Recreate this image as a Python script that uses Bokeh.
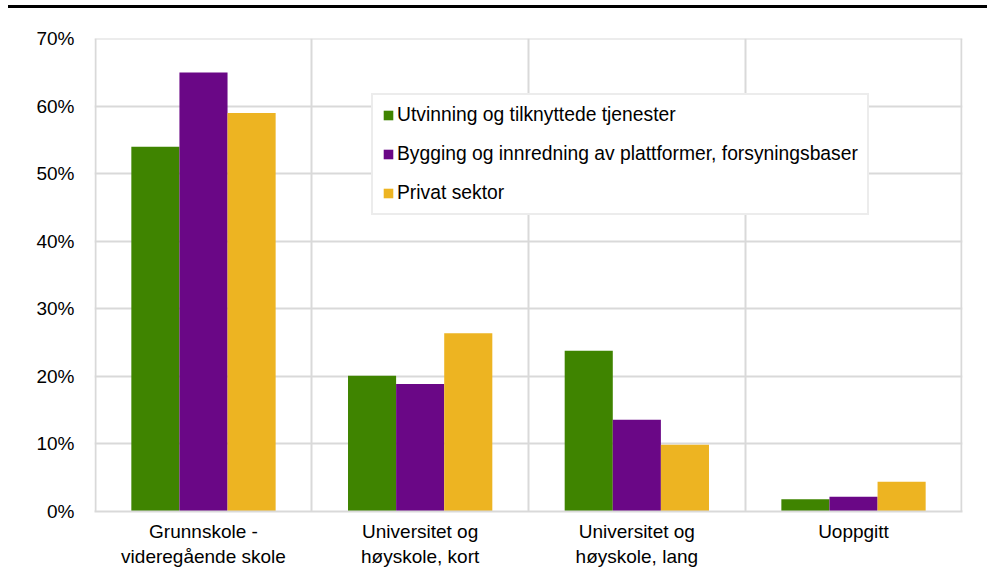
from bokeh.plotting import figure
from bokeh.models import (ColumnDataSource, Range1d, FixedTicker, PrintfTickFormatter,
                          Legend, LegendItem, Div)
from bokeh.transform import dodge
from bokeh.layouts import column
from bokeh.embed import file_html
from bokeh.resources import INLINE

categories = ["Grunnskole -\nvideregående skole", "Universitet og\nhøyskole, kort",
              "Universitet og\nhøyskole, lang", "Uoppgitt"]
series_names = ["Utvinning og tilknyttede tjenester",
                "Bygging og innredning av plattformer, forsyningsbaser",
                "Privat sektor"]
utvinning = [54.0, 20.1, 23.8, 1.8]
bygging = [65.0, 18.9, 13.6, 2.2]
privat = [59.0, 26.4, 9.9, 4.4]
colors = ["#3F8400", "#6A0786", "#EDB422"]
y_ticks = [0, 10, 20, 30, 40, 50, 60, 70]

FONT = "Liberation Sans"
GRID = "#d9d9d9"

n = len(categories)
xs = [i + 0.5 for i in range(n)]
source = ColumnDataSource(data=dict(x=xs, s0=utvinning, s1=bygging, s2=privat))

p = figure(width=980, height=572, output_backend="svg", toolbar_location=None,
           x_range=Range1d(-0.003, n + 0.003), y_range=Range1d(0, 70.05))
p.min_border_left = 94
p.min_border_right = 18
p.min_border_top = 30
p.min_border_bottom = 69
p.outline_line_color = None
p.background_fill_color = "white"
p.border_fill_color = "white"

bw = 0.222
offsets = [-bw, 0.0, bw]
renderers = []
for k, (col, c) in enumerate(zip(["s0", "s1", "s2"], colors)):
    r = p.vbar(x=dodge("x", offsets[k], range=p.x_range), top=col, width=bw,
               source=source, fill_color=c, line_color=None)
    renderers.append(r)

# grid
p.xgrid.ticker = FixedTicker(ticks=list(range(n + 1)))
p.xgrid.grid_line_color = GRID
p.xgrid.grid_line_width = 2
p.ygrid.ticker = FixedTicker(ticks=y_ticks)
p.ygrid.grid_line_color = GRID
p.ygrid.grid_line_width = 2

# x axis
p.xaxis.ticker = FixedTicker(ticks=xs)
p.xaxis.major_label_overrides = {x: c for x, c in zip(xs, categories)}
p.xaxis.axis_line_color = GRID
p.xaxis.axis_line_width = 2
p.xaxis.major_tick_line_color = None
p.xaxis.minor_tick_line_color = None
p.xaxis.major_label_text_font = FONT
p.xaxis.major_label_text_font_size = "19px"
p.xaxis.major_label_text_color = "black"
p.xaxis.major_label_standoff = 3

# y axis
p.yaxis.ticker = FixedTicker(ticks=y_ticks)
p.yaxis.formatter = PrintfTickFormatter(format="%d%%")
p.yaxis.axis_line_color = None
p.yaxis.major_tick_line_color = None
p.yaxis.minor_tick_line_color = None
p.yaxis.major_label_text_font = FONT
p.yaxis.major_label_text_font_size = "19px"
p.yaxis.major_label_text_color = "black"
p.yaxis.major_label_standoff = 14

legend = Legend(items=[LegendItem(label=s, renderers=[r]) for s, r in zip(series_names, renderers)],
                location=(277, 296))
legend.label_text_font = FONT
legend.label_text_font_size = "19.3px"
legend.label_text_color = "black"
legend.glyph_width = 12
legend.glyph_height = 12
legend.label_standoff = 3
legend.label_height = 20
legend.spacing = 17
legend.padding = 9
legend.margin = 0
legend.border_line_color = GRID
legend.border_line_width = 2
legend.background_fill_color = "white"
legend.background_fill_alpha = 1.0
p.add_layout(legend, "center")

topline = Div(width=979, height=3, margin=(5, 0, 0, 8),
              styles={"background-color": "black"})
layout = column(topline, p, spacing=0)

open("out.html", "w").write(file_html(layout, INLINE))
